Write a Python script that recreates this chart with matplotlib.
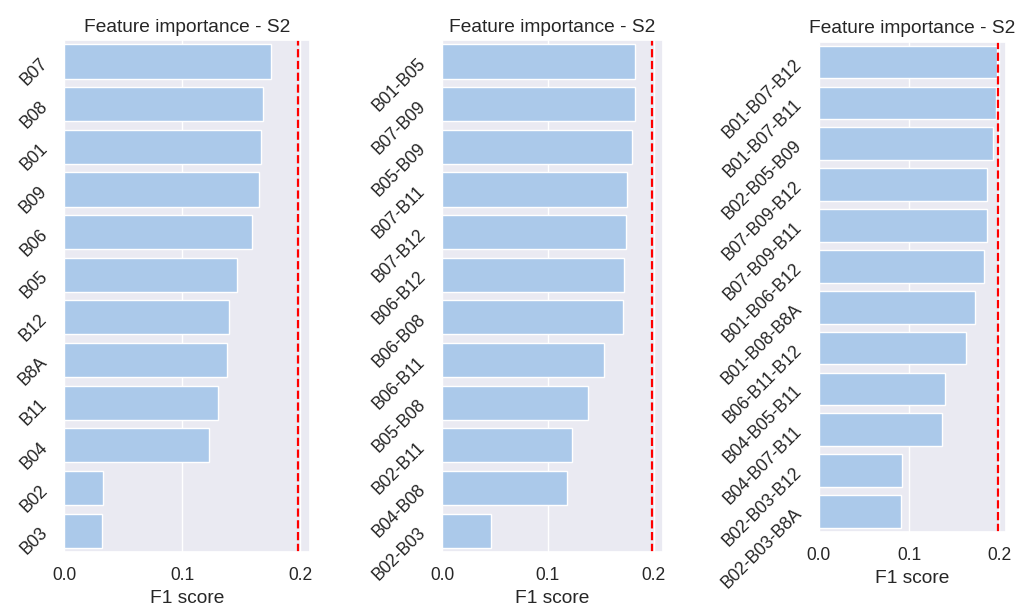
import numpy as np
import pandas as pd
import matplotlib
matplotlib.use('Agg')
import matplotlib.pyplot as plt
import seaborn as sns

sns.set_theme(style='darkgrid', font_scale=1.15)
plt.rcParams['font.family'] = ['Liberation Sans', 'DejaVu Sans']

# single bands
bands_1 = ['B07', 'B08', 'B01', 'B09', 'B06', 'B05', 'B12', 'B8A', 'B11', 'B04', 'B02', 'B03']
f1_1 = [0.1754, 0.1686, 0.167, 0.1653, 0.159, 0.1466, 0.140, 0.138, 0.1305, 0.123, 0.033, 0.0325]

# band pairs
bands_2 = ['B01-B05', 'B07-B09', 'B05-B09', 'B07-B11', 'B07-B12', 'B06-B12',
           'B06-B08', 'B06-B11', 'B05-B08', 'B02-B11', 'B04-B08', 'B02-B03']
f1_2 = [0.1826, 0.1823, 0.1797, 0.175, 0.1734, 0.1719, 0.1706, 0.153, 0.1384, 0.1227, 0.118, 0.0466]

# band triplets
bands_3 = ['B01-B07-B12', 'B01-B07-B11', 'B02-B05-B09', 'B07-B09-B12', 'B07-B09-B11', 'B01-B06-B12',
           'B01-B08-B8A', 'B06-B11-B12', 'B04-B05-B11', 'B04-B07-B11', 'B02-B03-B12', 'B02-B03-B8A']
f1_3 = [0.1976, 0.1963, 0.1927, 0.1864, 0.1862, 0.1831, 0.1731, 0.1628, 0.1399, 0.1369, 0.0926, 0.0912]

baseline = 0.198

fig = plt.figure(figsize=(10.26, 6.1), dpi=100)
positions = [
    [0.0624, 0.0951, 0.2398, 0.839],
    [0.4308, 0.0951, 0.2154, 0.839],
    [0.798, 0.1279, 0.1826, 0.8038],
]
xmax = [0.2085, 0.2088, 0.2075]

color = sns.color_palette('pastel')[0]

for pos, xm, names, vals in zip(positions, xmax, [bands_1, bands_2, bands_3], [f1_1, f1_2, f1_3]):
    ax = fig.add_axes(pos)
    df = pd.DataFrame({'band': names, 'f1': vals})
    sns.barplot(data=df, x='f1', y='band', color=color, ax=ax)
    ax.axvline(baseline, color='red', linestyle='--', linewidth=1.6)
    ax.set_xlim(0, xm)
    ax.set_xticks([0.0, 0.1, 0.2])
    ax.tick_params(axis='x', pad=5)
    ax.set_xlabel('F1 score')
    ax.set_ylabel('')
    ax.set_title('Feature importance - S2')
    plt.setp(ax.get_yticklabels(), rotation=45)

fig.savefig('out.png', dpi=100)
